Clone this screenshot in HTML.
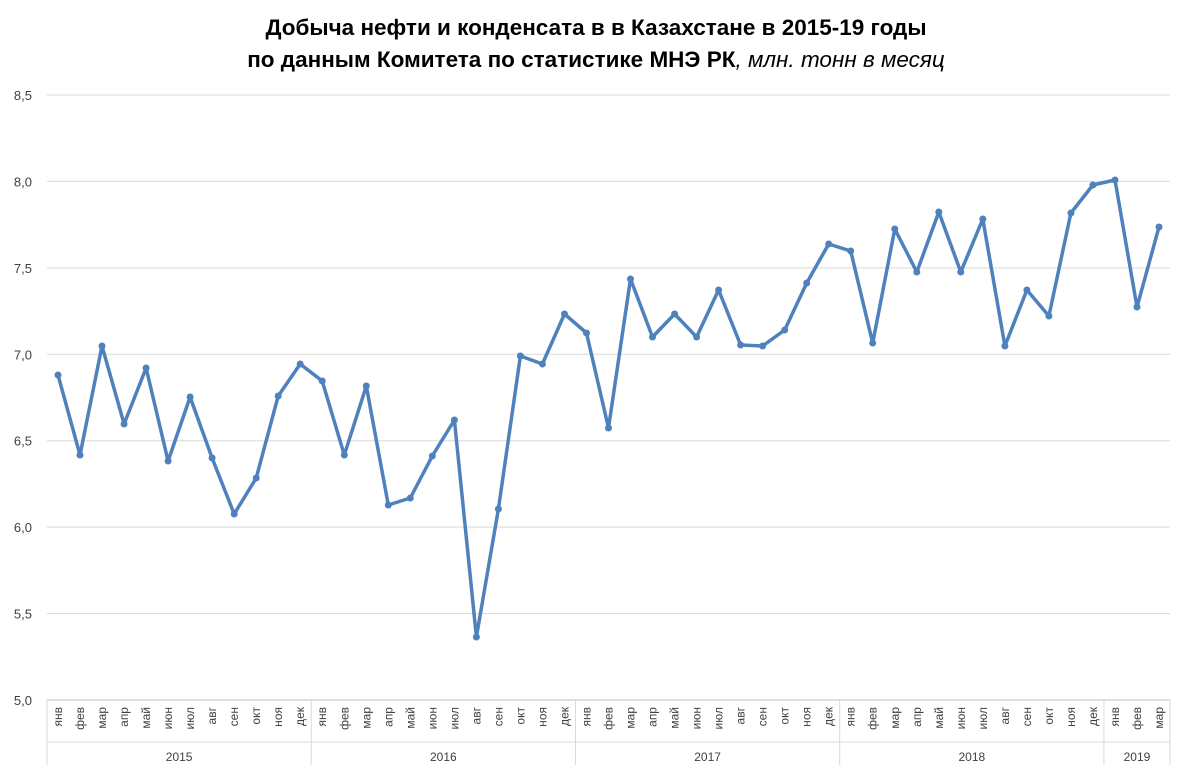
<!DOCTYPE html>
<html><head><meta charset="utf-8"><style>
body{margin:0;background:#fff;}
svg{display:block;font-family:"Liberation Sans",Arial,sans-serif;}
</style></head><body>
<svg id="c" width="1192" height="780" xmlns="http://www.w3.org/2000/svg"></svg>
<script>
const s=document.getElementById('c');
let h='';
h+='<text x="596" y="35" text-anchor="middle" font-size="22.5" font-weight="bold" fill="#000">Добыча нефти и конденсата в в Казахстане в 2015-19 годы</text>';
h+='<text x="596" y="67" text-anchor="middle" font-size="22.5" fill="#000"><tspan font-weight="bold">по данным Комитета по статистике МНЭ РК</tspan><tspan font-style="italic">, млн. тонн в месяц</tspan></text>';
const X0=47,X1=1170,Ytop=95,Ybot=700;
const yv=v=>Ybot-(v-5)/3.5*(Ybot-Ytop);
for(let i=0;i<=7;i++){const v=5+i*0.5,y=yv(v);
 h+=`<line x1="${X0}" x2="${X1}" y1="${y}" y2="${y}" stroke="${i==0?'#bfbfbf':'#d9d9d9'}" stroke-width="1"/>`;
 h+=`<text x="32" y="${y+5}" text-anchor="end" font-size="13" fill="#404040">${v.toFixed(1).replace('.',',')}</text>`;}
const ys=[375,455,346,424,368,461,397,458,514,478,396,364,381,455,386,505,498,456,420,637,509,356,364,314,333,428,279,337,314,337,290,345,346,330,283,244,251,343,229,272,212,272,219,346,290,316,213,185,180,307,227];
const n=51,w=(X1-X0)/n;
const m=['янв','фев','мар','апр','май','июн','июл','авг','сен','окт','ноя','дек'];
for(let i=0;i<n;i++){const x=X0+w*(i+0.5);
 h+=`<text transform="translate(${x+4},707) rotate(-90)" text-anchor="end" font-size="12" fill="#404040">${m[i%12]}</text>`;}
const groups=[[0,12,'2015'],[12,24,'2016'],[24,36,'2017'],[36,48,'2018'],[48,51,'2019']];
h+=`<line x1="${X0}" x2="${X0}" y1="700" y2="765" stroke="#d9d9d9"/>`;
for(const g of groups){const xe=X0+w*g[1];
 h+=`<line x1="${xe}" x2="${xe}" y1="700" y2="765" stroke="#d9d9d9"/>`;
 h+=`<text x="${X0+w*(g[0]+g[1])/2}" y="761" text-anchor="middle" font-size="12" fill="#404040">${g[2]}</text>`;}
h+=`<line x1="${X0}" x2="${X1}" y1="742" y2="742" stroke="#d9d9d9"/>`;
let p=ys.map((y,i)=>`${(X0+w*(i+0.5)).toFixed(1)},${y}`).join(' ');
h+=`<polyline points="${p}" fill="none" stroke="#4f81bd" stroke-width="3.5" stroke-linejoin="round"/>`;
ys.forEach((y,i)=>{h+=`<circle cx="${(X0+w*(i+0.5)).toFixed(1)}" cy="${y}" r="3.5" fill="#4f81bd"/>`;});
s.innerHTML=h;
</script>
</body></html>
